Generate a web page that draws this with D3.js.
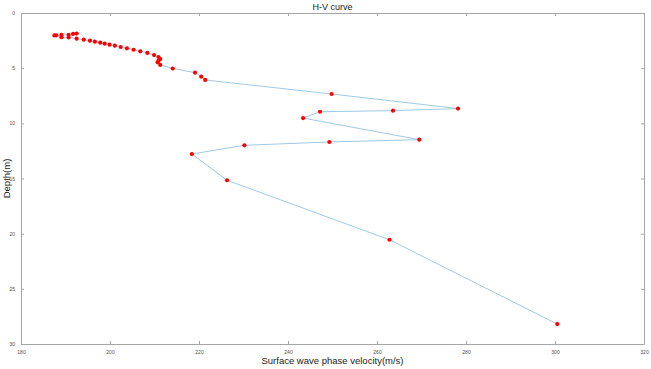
<!DOCTYPE html>
<html>
<head>
<meta charset="utf-8">
<script src="https://cdn.jsdelivr.net/npm/d3@7"></script>
<style>
  body { margin: 0; background: #fff; }
  svg { display: block; font-family: "Liberation Sans", Arial, sans-serif; }
</style>
</head>
<body>
<div id="chart"></div>
<script>
// phase velocity (m/s) and depth (m), sorted by depth
const velocity = [
  192.5, 191.7, 190.7, 189.1, 187.9, 187.5, 189.1, 190.7, 192.5,
  194.1, 195.5, 196.6, 197.8, 198.8, 199.9, 201.1, 202.4, 203.8,
  205.3, 206.8, 208.4, 209.9, 210.9, 211.3, 210.9, 210.7, 211.3,
  214.1, 219.1, 220.5, 221.4, 249.8, 278.2, 263.6, 247.2, 243.4,
  269.5, 249.3, 230.2, 218.4, 226.3, 262.8, 300.5
];
const depth = [
  1.86, 1.9, 1.98, 1.99, 2.02, 2.03, 2.2, 2.21, 2.33,
  2.42, 2.51, 2.6, 2.69, 2.78, 2.87, 2.96, 3.08, 3.2,
  3.33, 3.47, 3.62, 3.81, 3.99, 4.17, 4.32, 4.47, 4.71,
  5.03, 5.41, 5.77, 6.07, 7.34, 8.66, 8.85, 8.95, 9.52,
  11.48, 11.69, 11.99, 12.78, 15.16, 20.55, 28.19
];
const xTicks = [180, 200, 220, 240, 260, 280, 300, 320];
const yTicks = [0, 5, 10, 15, 20, 25, 30];

const width = 651, height = 369;
const margin = { top: 13, right: 7, bottom: 25, left: 21 };

const svg = d3.select("#chart").append("svg")
  .attr("width", width)
  .attr("height", height);

const x = d3.scaleLinear().domain([180, 320]).range([margin.left, width - margin.right]);
const y = d3.scaleLinear().domain([0, 30]).range([margin.top, height - margin.bottom]);

const axisColor = "#a6a6a6";
const tickLen = 3;

function styleAxis(g, showLabels) {
  g.select(".domain").attr("stroke", axisColor).attr("stroke-width", 1);
  g.selectAll(".tick line").attr("stroke", axisColor);
  g.selectAll(".tick text")
    .attr("fill", "#4d4d4d")
    .attr("font-size", "5px")
    .style("display", showLabels ? null : "none");
}

// bottom / top
svg.append("g")
  .attr("transform", `translate(0,${y(30)})`)
  .call(d3.axisBottom(x).tickValues(xTicks).tickSizeInner(-tickLen).tickSizeOuter(0).tickPadding(6))
  .call(g => styleAxis(g, true));
svg.append("g")
  .attr("transform", `translate(0,${y(0)})`)
  .call(d3.axisTop(x).tickValues(xTicks).tickSizeInner(-tickLen).tickSizeOuter(0))
  .call(g => styleAxis(g, false));

// left / right
svg.append("g")
  .attr("transform", `translate(${x(180)},0)`)
  .call(d3.axisLeft(y).tickValues(yTicks).tickSizeInner(-tickLen).tickSizeOuter(0).tickPadding(6))
  .call(g => styleAxis(g, true));
svg.append("g")
  .attr("transform", `translate(${x(320)},0)`)
  .call(d3.axisRight(y).tickValues(yTicks).tickSizeInner(-tickLen).tickSizeOuter(0))
  .call(g => styleAxis(g, false));

const points = velocity.map((v, i) => ({ v: v, d: depth[i] }));

const line = d3.line()
  .x(d => x(d.v))
  .y(d => y(d.d));

svg.append("path")
  .datum(points)
  .attr("d", line)
  .attr("fill", "none")
  .attr("stroke", "#9ecae6")
  .attr("stroke-width", 1);

svg.selectAll("circle")
  .data(points)
  .enter()
  .append("circle")
  .attr("cx", d => x(d.v))
  .attr("cy", d => y(d.d))
  .attr("r", 2.1)
  .attr("fill", "#ff0000");

// title and axis labels
svg.append("text")
  .attr("x", (x(180) + x(320)) / 2)
  .attr("y", 10)
  .attr("text-anchor", "middle")
  .attr("font-size", "9px")
  .attr("fill", "#222")
  .text("H-V curve");

svg.append("text")
  .attr("x", (x(180) + x(320)) / 2)
  .attr("y", 364)
  .attr("text-anchor", "middle")
  .attr("font-size", "9.5px")
  .attr("fill", "#222")
  .text("Surface wave phase velocity(m/s)");

svg.append("text")
  .attr("transform", `translate(10,${(y(0) + y(30)) / 2}) rotate(-90)`)
  .attr("text-anchor", "middle")
  .attr("font-size", "9.5px")
  .attr("fill", "#222")
  .text("Depth(m)");
</script>
</body>
</html>
